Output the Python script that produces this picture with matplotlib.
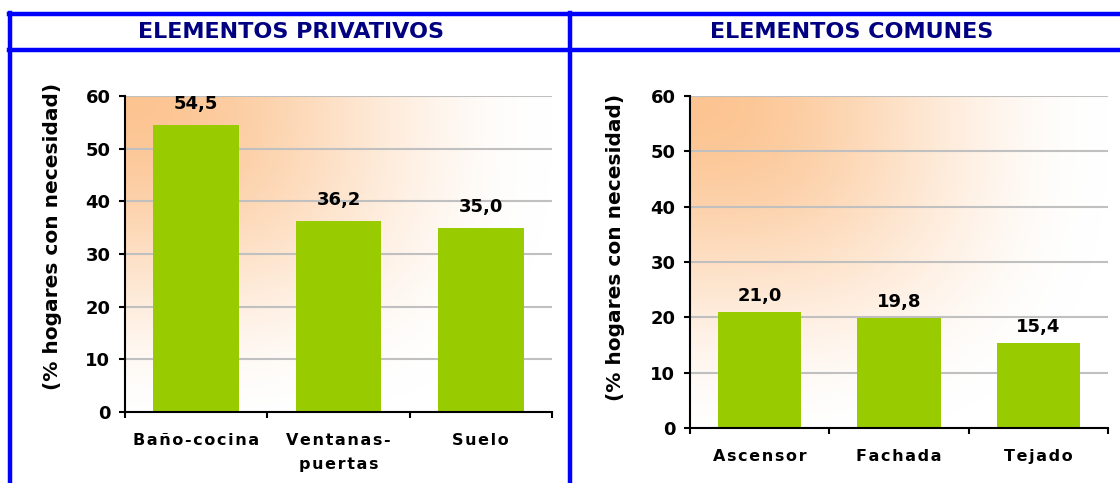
import numpy as np
import matplotlib
matplotlib.use("Agg")
import matplotlib.pyplot as plt
from matplotlib.lines import Line2D

plt.rcParams['font.family'] = ['DejaVu Sans']
plt.rcParams['font.weight'] = 'bold'

# ---- data ----
titles = ["ELEMENTOS PRIVATIVOS", "ELEMENTOS COMUNES"]
cats_priv = ["Baño-cocina", "Ventanas-\npuertas", "Suelo"]
vals_priv = [54.5, 36.2, 35.0]
cats_com = ["Ascensor", "Fachada", "Tejado"]
vals_com = [21.0, 19.8, 15.4]
ylabel = "(% hogares con necesidad)"
yticks = [0, 10, 20, 30, 40, 50, 60]

BAR = "#99CC00"
FRAME = "#0000FF"
TITLE_C = "#000080"

W, H = 1120, 483
fig = plt.figure(figsize=(W / 100, H / 100), dpi=100)


def spaced(s):
    return "\n".join("\u200a".join(list(line)) for line in s.split("\n"))


def gradient_img():
    ny, nx = 240, 320
    u = np.linspace(0, 1, nx)[None, :]
    v = np.linspace(0, 1, ny)[:, None]
    p = 3.0
    t = ((u / 1.0) ** p + (v / 1.05) ** p) ** (1 / p)
    s = np.clip(t, 0, 1)
    a = 1 - (3 * s ** 2 - 2 * s ** 3)
    orange = np.array([252, 196, 145]) / 255.0
    white = np.array([1, 1, 1])
    img = white[None, None, :] + (orange - white)[None, None, :] * a[:, :, None]
    return img


def make_chart(rect, cats, vals, label_off_px, ylab_xy):
    ax = fig.add_axes(rect)
    x = np.arange(len(cats))
    ax.set_xlim(-0.5, len(cats) - 0.5)
    ax.set_ylim(0, 60)
    ax.imshow(gradient_img(), extent=(-0.5, len(cats) - 0.5, 0, 60),
              aspect='auto', zorder=0, interpolation='bilinear')
    ax.set_yticks(yticks)
    ax.yaxis.grid(True, color="#C0C0C0", lw=1.5, zorder=0.5)
    ax.set_axisbelow(True)
    bars = ax.bar(x, vals, width=0.6, color=BAR, zorder=2)
    for b, v in zip(bars, vals):
        ax.annotate(f"{v:.1f}".replace(".", ","),
                    (b.get_x() + b.get_width() / 2, v),
                    xytext=(0, label_off_px * 0.72), textcoords="offset points",
                    ha="center", va="center", fontsize=13, fontweight="bold")
    for s in ["top", "right"]:
        ax.spines[s].set_visible(False)
    for s in ["left", "bottom"]:
        ax.spines[s].set_linewidth(1.5)
    ax.tick_params(axis="y", direction="out", length=4.5, width=1.5,
                   labelsize=13, pad=6)
    # category labels centered, tick marks at boundaries
    ax.set_xticks(np.arange(len(cats) + 1) - 0.5)
    ax.set_xticklabels([])
    ax.tick_params(axis="x", direction="out", length=4.5, width=1.5)
    ax.set_xticks(x, minor=True)
    ax.set_xticklabels([spaced(c) for c in cats], minor=True, fontsize=11.5,
                       fontweight="bold", va="top", linespacing=1.75)
    ax.tick_params(axis="x", which="minor", length=0, pad=15)
    ax.set_ylabel(ylabel, fontsize=14.5, fontweight="bold")
    ax.yaxis.set_label_coords(*ylab_xy)
    return ax


ax1 = make_chart([125 / W, 1 - 412 / H, (552 - 125) / W, (412 - 96) / H],
                 cats_priv, vals_priv, 21, (-0.1475, 0.554))
ax2 = make_chart([690 / W, 1 - 428 / H, (1108 - 690) / W, (428 - 96) / H],
                 cats_com, vals_com, 16, (-0.1555, 0.545))

# ---- frame (table borders) ----
def hline(y, x0, x1):
    fig.add_artist(Line2D([x0 / W, x1 / W], [1 - y / H, 1 - y / H],
                          color=FRAME, lw=3.2, transform=fig.transFigure))


def vline(x, y0, y1):
    fig.add_artist(Line2D([x / W, x / W], [1 - y0 / H, 1 - y1 / H],
                          color=FRAME, lw=3.2, transform=fig.transFigure))

hline(14, 8.5, 1125)
hline(50, 8.5, 1125)
vline(10, 12.5, 490)
vline(570, 12.5, 490)

fig.text(291 / W, 1 - 32.5 / H, titles[0], ha="center", va="center",
         fontsize=16, fontweight="bold", color=TITLE_C)
fig.text(852 / W, 1 - 32.5 / H, titles[1], ha="center", va="center",
         fontsize=16, fontweight="bold", color=TITLE_C)

fig.savefig("out.png", dpi=100)
